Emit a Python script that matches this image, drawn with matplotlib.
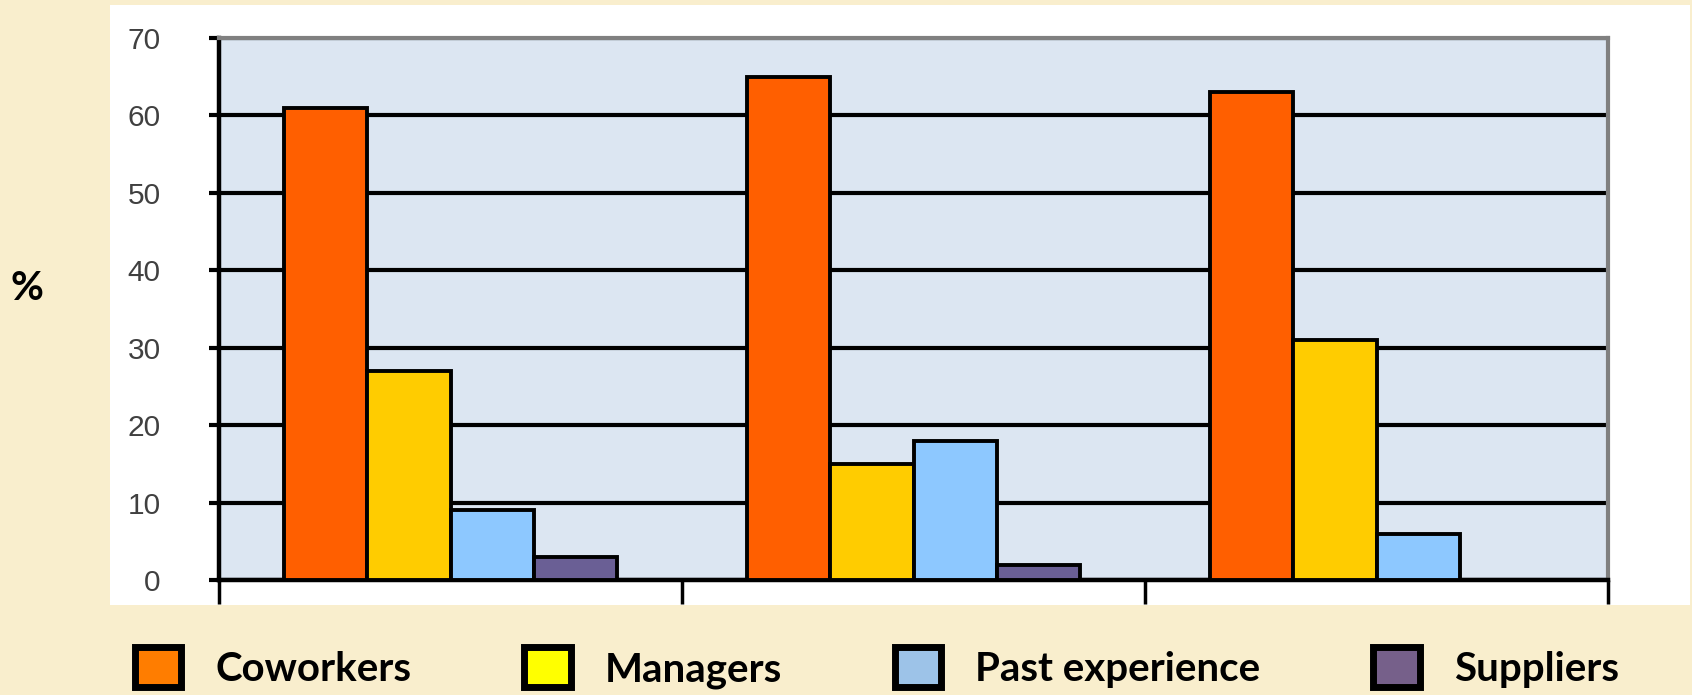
import numpy as np
import matplotlib.pyplot as plt
from matplotlib.patches import Rectangle, Patch

# data (percent)
groups = ['Group 1', 'Group 2', 'Group 3']
series = ['Coworkers', 'Managers', 'Past experience', 'Suppliers']
coworkers = [61, 65, 63]
managers = [27, 15, 31]
past_experience = [9, 18, 6]
suppliers = [3, 2, 0]
yticks = [0, 10, 20, 30, 40, 50, 60, 70]

bar_colors = ['#FF5F00', '#FFCC00', '#8DC8FF', '#6A5F95']
legend_colors = ['#FF7D00', '#FFFF00', '#9DC3E8', '#76608A']

fig = plt.figure(figsize=(16.92, 6.95), dpi=100, facecolor='#F9EECD')

# white chart panel
fig.patches.append(Rectangle((110 / 1692, 1 - 605 / 695), 1580 / 1692, 600 / 695,
                             transform=fig.transFigure, facecolor='white',
                             edgecolor='none', zorder=-1))

ax = fig.add_axes([219 / 1692, 1 - 580 / 695, (1608 - 219) / 1692, (580 - 38) / 695])
ax.set_zorder(1)
ax.set_facecolor('#DCE6F2')

x = np.arange(len(groups))
w = 0.18
values = [coworkers, managers, past_experience, suppliers]
for i, vals in enumerate(values):
    ax.bar(x + (i - 1.5) * w, vals, w, color=bar_colors[i], edgecolor='black',
           linewidth=2.8, zorder=3)

ax.set_xlim(-0.5, 2.5)
ax.set_ylim(0, 70)
ax.set_yticks(yticks)
ax.set_yticklabels([str(v) for v in yticks], fontsize=21.5, color='#404040',
                   family='Liberation Sans')
ax.set_xticks([-0.5, 0.5, 1.5, 2.5])
ax.set_xticklabels([])
ax.tick_params(axis='y', length=7, width=3, color='black', pad=35)
ax.tick_params(axis='x', length=17, width=2.5, color='black')

ax.set_axisbelow(True)
ax.yaxis.grid(True, color='black', linewidth=3)

for s in ['left', 'bottom']:
    ax.spines[s].set_color('black')
    ax.spines[s].set_linewidth(3.2)
for s in ['top', 'right']:
    ax.spines[s].set_color('#808080')
    ax.spines[s].set_linewidth(3)

fig.text(27 / 1692, 1 - 288 / 695, '%', fontsize=29, fontweight='bold',
         family='Lato', ha='center', va='center')

handles = [Patch(facecolor=c, edgecolor='black', linewidth=5, label=s)
           for c, s in zip(legend_colors, series)]
fig.legend(handles=handles, loc='center left', ncol=4, frameon=False,
           bbox_to_anchor=(135 / 1692, 1 - 668 / 695),
           prop={'family': 'Lato', 'weight': 'bold', 'size': 29},
           handlelength=1.15, handleheight=1.15, handletextpad=0.85,
           columnspacing=2.8, borderpad=0, borderaxespad=0)

fig.savefig('out.png', dpi=100)
